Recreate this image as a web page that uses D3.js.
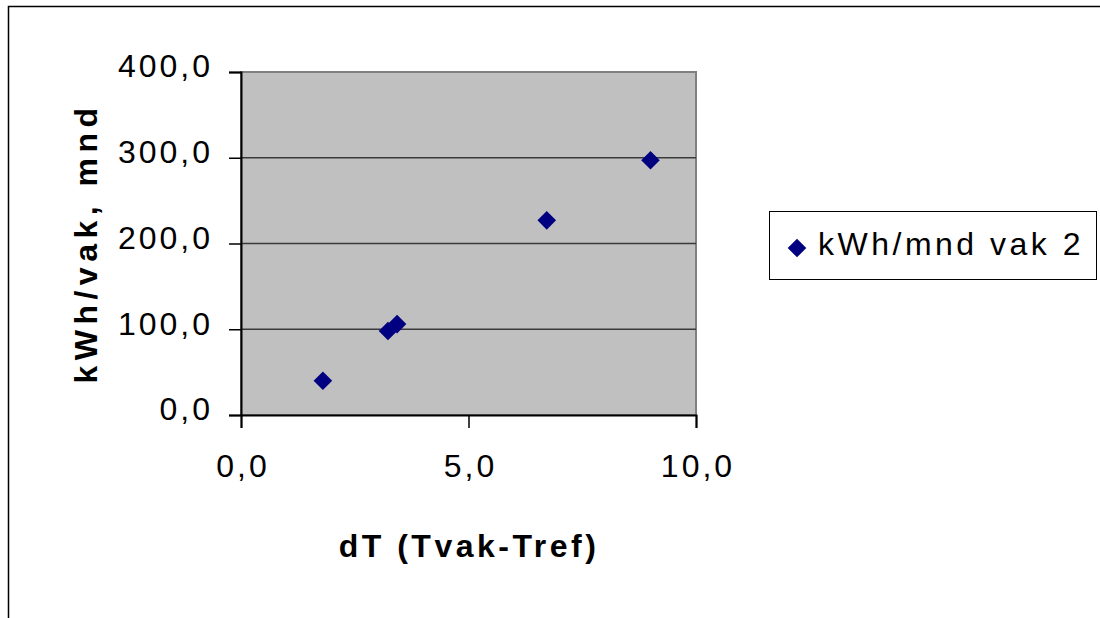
<!DOCTYPE html>
<html>
<head>
<meta charset="utf-8">
<script src="https://cdn.jsdelivr.net/npm/d3@7"></script>
<style>
  html, body { margin: 0; padding: 0; background: #fff; }
  svg { display: block; font-family: "Liberation Sans", Arial, sans-serif; }
</style>
</head>
<body>
<svg id="chart" width="1100" height="618"></svg>
<script>
// Measured temperature difference vs. monthly energy for vak 2
const dT = [1.8, 3.23, 3.43, 6.72, 9.0];
const kwhPerMonth = [40, 98, 106, 227, 297];
const seriesName = "kWh/mnd vak 2";
const xTicks = [0, 5, 10];
const yTicks = [0, 100, 200, 300, 400];
const xTitle = "dT (Tvak-Tref)";
const yTitle = "kWh/vak, mnd";

const points = dT.map((d, i) => ({ x: d, y: kwhPerMonth[i] }));
const fmt = v => d3.format(".1f")(v).replace(".", ",");

const svg = d3.select("#chart");
const plot = { left: 241, right: 696, top: 72, bottom: 415 };

const x = d3.scaleLinear().domain([0, 10]).range([plot.left, plot.right]);
const y = d3.scaleLinear().domain([0, 400]).range([plot.bottom, plot.top]);

// chart frame
svg.append("path")
  .attr("d", "M8.5,618 V6.5 H1100")
  .attr("fill", "none").attr("stroke", "#000").attr("stroke-width", 1.5);

// plot area
svg.append("rect")
  .attr("x", plot.left).attr("y", plot.top)
  .attr("width", plot.right - plot.left).attr("height", plot.bottom - plot.top)
  .attr("fill", "#c0c0c0").attr("stroke", "#808080").attr("stroke-width", 2);

// horizontal gridlines
svg.append("g").selectAll("line")
  .data(yTicks.filter(t => t > 0 && t < 400))
  .join("line")
  .attr("x1", plot.left).attr("x2", plot.right)
  .attr("y1", d => y(d)).attr("y2", d => y(d))
  .attr("stroke", "#3a3a3a").attr("stroke-width", 1.5);

// y axis
const yAxis = svg.append("g")
  .attr("transform", `translate(${plot.left},0)`)
  .call(d3.axisLeft(y).tickValues(yTicks).tickSize(12).tickPadding(16).tickFormat(fmt));
yAxis.select(".domain").attr("stroke", "#000").attr("stroke-width", 2);
yAxis.selectAll(".tick line").attr("stroke", "#000").attr("stroke-width", 1.5);
yAxis.selectAll(".tick text")
  .attr("font-size", 32).attr("fill", "#000")
  .attr("font-family", "Liberation Sans, Arial, sans-serif")
  .style("letter-spacing", "3px")
  .attr("dy", "0.15em");

// x axis
const xAxis = svg.append("g")
  .attr("transform", `translate(0,${plot.bottom})`)
  .call(d3.axisBottom(x).tickValues(xTicks).tickSize(13).tickPadding(26).tickFormat(fmt));
xAxis.select(".domain").attr("stroke", "#000").attr("stroke-width", 2);
xAxis.selectAll(".tick line").attr("stroke", "#000").attr("stroke-width", 1.5);
xAxis.selectAll(".tick text")
  .attr("font-size", 32).attr("fill", "#000")
  .attr("font-family", "Liberation Sans, Arial, sans-serif")
  .style("letter-spacing", "3px")
  .attr("dx", "1.5px");

// data markers
const diamond = d3.symbol().type(d3.symbolDiamond2).size(220);
svg.append("g").selectAll("path")
  .data(points)
  .join("path")
  .attr("d", diamond)
  .attr("transform", d => `translate(${x(d.x)},${y(d.y)})`)
  .attr("fill", "#000080");

// axis titles
svg.append("text")
  .attr("x", 469).attr("y", 557)
  .attr("text-anchor", "middle")
  .attr("font-size", 32).attr("font-weight", "bold")
  .style("letter-spacing", "3.5px")
  .text(xTitle);

svg.append("text")
  .attr("transform", "translate(97,243) rotate(-90)")
  .attr("text-anchor", "middle")
  .attr("font-size", 32).attr("font-weight", "bold")
  .style("letter-spacing", "5.5px")
  .text(yTitle);

// legend
const legend = svg.append("g");
legend.append("rect")
  .attr("x", 769.5).attr("y", 211.5).attr("width", 327).attr("height", 68)
  .attr("fill", "#fff").attr("stroke", "#000").attr("stroke-width", 1);
legend.append("path")
  .attr("d", diamond)
  .attr("transform", "translate(797,248)")
  .attr("fill", "#000080");
legend.append("text")
  .attr("x", 818).attr("y", 255)
  .attr("font-size", 32)
  .style("letter-spacing", "3.5px")
  .text(seriesName);
</script>
</body>
</html>
